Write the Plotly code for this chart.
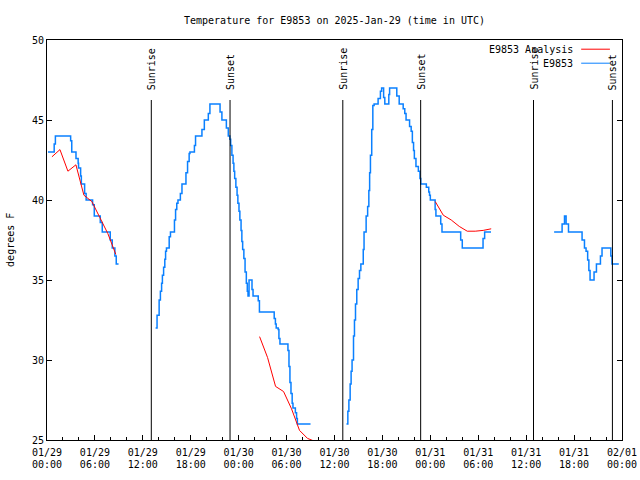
import pandas as pd
import plotly.graph_objects as go

BASE = pd.Timestamp("2025-01-29 00:00")

# Observed temperature (E9853), hours since 2025-01-29 00:00 UTC, degrees F (step line)
obs1_h = [0.12, 0.9, 1.05, 2.96, 3.1, 3.63, 3.9, 3.95, 4.21, 4.3, 4.71, 4.9, 5.71, 5.92, 6.67, 6.92, 7.92, 8.17, 8.5, 8.67, 8.96]
obs1_t = [43.0, 43.5, 44.0, 43.7, 43.0, 42.6, 42.3, 42.0, 41.5, 41.0, 40.4, 40.0, 39.7, 39.0, 38.6, 38.0, 37.5, 37.0, 36.5, 36.0, 36.0]

obs2_h = [13.6, 13.78, 14.04, 14.2, 14.35, 14.45, 14.6, 14.75, 14.85, 14.96, 15.3, 15.46, 15.96, 16.1, 16.25, 16.4,
          16.7, 16.9, 17.4, 17.6, 17.8, 17.9, 18.46, 18.6, 19.4, 19.7, 20.2, 20.4, 21.67, 21.9, 22.46, 22.7, 22.9,
          23.0, 23.15, 23.3, 23.4, 23.5, 23.65, 23.8, 23.9, 24.04, 24.15, 24.3, 24.4, 24.5, 24.65, 24.8, 24.96,
          25.08, 25.17, 25.3, 25.67, 25.8, 26.45, 26.6, 28.45, 28.6, 28.7, 28.95, 29.04, 29.17, 30.17, 30.3,
          30.42, 30.55, 30.7, 30.8, 31.1, 31.25, 31.35, 33.0]
obs2_t = [32.0, 32.8, 33.75, 34.3, 34.8, 35.3, 35.8, 36.3, 36.8, 37.0, 37.7, 38.0, 38.75, 39.4, 39.8, 40.0,
          40.4, 41.0, 41.7, 42.4, 42.9, 43.0, 43.4, 44.0, 44.4, 45.0, 45.4, 46.0, 45.5, 45.0, 44.5, 44.0, 43.8,
          43.4, 42.8, 42.3, 41.8, 41.35, 40.8, 40.3, 39.8, 39.3, 38.75, 38.1, 37.4, 36.9, 36.35, 35.5, 34.8,
          34.3, 34.0, 35.0, 34.4, 34.0, 33.7, 33.0, 32.6, 32.25, 32.0, 31.9, 31.35, 31.0, 30.6, 29.6,
          28.6, 27.9, 27.3, 27.0, 26.7, 26.35, 26.0, 26.0]

obs3_h = [37.5, 37.67, 37.8, 37.96, 38.08, 38.2, 38.38, 38.5, 38.63, 38.79, 38.96, 39.13, 39.3, 39.6, 39.7,
          39.96, 40.15, 40.3, 40.4, 40.5, 40.66, 40.8, 40.96, 41.46, 41.75, 41.9, 42.15, 42.3, 42.8, 42.9, 43.8,
          44.1, 44.6, 44.8, 44.96, 45.4, 45.6, 45.75, 45.9, 46.0, 46.2, 46.5, 46.7, 46.8, 47.5, 47.8, 47.9, 48.0,
          48.6, 48.7, 49.3, 49.46, 51.8, 52.0, 54.6, 54.8, 55.6]
obs3_t = [26.0, 26.8, 27.5, 28.5, 29.3, 30.0, 31.5, 32.5, 33.5, 34.4, 35.1, 35.6, 36.0, 36.9, 38.0,
          39.0, 39.6, 40.6, 41.7, 42.8, 44.4, 45.9, 46.0, 46.35, 46.8, 47.0, 46.4, 46.0, 46.6, 47.0, 46.5,
          46.0, 45.7, 45.4, 45.0, 44.6, 44.3, 43.6, 43.1, 42.6, 42.1, 41.8, 41.35, 41.0, 40.8, 40.5, 40.3, 40.0,
          39.4, 39.0, 38.5, 38.0, 37.5, 37.0, 37.6, 38.0, 38.0]

obs4_h = [63.5, 64.5, 64.8, 65.0, 65.3, 67.0, 67.3, 67.5, 67.7, 67.85, 68.0, 68.5, 68.8, 69.3, 69.5, 70.6, 70.75, 71.6]
obs4_t = [38.0, 38.5, 39.0, 38.5, 38.0, 37.5, 37.0, 36.8, 36.25, 35.6, 35.0, 35.5, 36.0, 36.5, 37.0, 36.5, 36.0, 36.0]

# Analysis (E9853 Analysis), hourly
ana1_h = [0.62, 1.62, 2.62, 3.62, 4.62, 5.62, 6.62, 7.62, 8.62]
ana1_t = [42.7, 43.15, 41.8, 42.2, 40.3, 39.9, 38.9, 37.9, 36.6]
ana2_h = [26.62, 27.62, 28.62, 29.62, 30.62, 31.62, 32.62, 33.62]
ana2_t = [31.46, 30.15, 28.35, 28.03, 26.95, 25.6, 25.1, 24.9]
ana3_h = [48.62, 49.62, 50.62, 51.62, 52.62, 53.62, 54.62, 55.62]
ana3_t = [39.9, 39.05, 38.75, 38.35, 38.05, 38.05, 38.1, 38.2]

# Sunrise / sunset markers
sun_h = [13.06, 22.92, 37.04, 46.79, 60.92, 70.8]
sun_labels = ["Sunrise", "Sunset", "Sunrise", "Sunset", "Sunrise", "Sunset"]

# X tick labels (two rows: date, time)
tick_h = list(range(0, 73, 6))
tick_dates = ["01/29", "01/29", "01/29", "01/29", "01/30", "01/30", "01/30", "01/30",
              "01/31", "01/31", "01/31", "01/31", "02/01"]
tick_times = ["00:00", "06:00", "12:00", "18:00"] * 3 + ["00:00"]

title_text = "Temperature for E9853 on 2025-Jan-29 (time in UTC)"
legend_names = ["E9853 Analysis", "E9853"]
ylabel = "degrees F"

BLUE = "#0a80ff"
RED = "#ff0000"
FONT = "DejaVu Sans Mono"


def to_time(hours):
    return [None if h is None else BASE + pd.Timedelta(hours=h) for h in hours]


def join(segs_h, segs_t):
    xs, ys = [], []
    for i, (h, t) in enumerate(zip(segs_h, segs_t)):
        if i:
            xs.append(None)
            ys.append(None)
        xs += h
        ys += t
    return to_time(xs), ys


fig = go.Figure()
ax, ay = join([ana1_h, ana2_h, ana3_h], [ana1_t, ana2_t, ana3_t])
fig.add_trace(go.Scatter(x=ax, y=ay, mode="lines", name=legend_names[0], xaxis="x2", yaxis="y",
                         line=dict(color=RED, width=1), connectgaps=False, showlegend=False))
ox, oy = join([obs1_h, obs2_h, obs3_h, obs4_h], [obs1_t, obs2_t, obs3_t, obs4_t])
fig.add_trace(go.Scatter(x=ox, y=oy, mode="lines", name=legend_names[1],
                         line=dict(color=BLUE, width=1.5, shape="hv"), connectgaps=False, showlegend=False))

for h, lab in zip(sun_h, sun_labels):
    t = BASE + pd.Timedelta(hours=h)
    fig.add_shape(type="line", xref="x", yref="paper", x0=t, x1=t, y0=0, y1=0.85,
                  line=dict(color="black", width=1))
    fig.add_annotation(x=t, xref="x", y=0.87, yref="paper", text=lab, textangle=-90,
                       showarrow=False, xanchor="center", yanchor="bottom",
                       font=dict(family=FONT, size=10, color="black"))

# legend (gnuplot style: text right-aligned, sample line to the right)
for i, (name, col) in enumerate(zip(legend_names, [RED, BLUE])):
    yp = 0.977 - i * 0.035
    fig.add_annotation(x=0.918, xref="paper", y=yp, yref="paper", text=name, showarrow=False,
                       xanchor="right", yanchor="middle", font=dict(family=FONT, size=10, color="black"))
    fig.add_shape(type="line", xref="paper", yref="paper", x0=0.929, x1=0.979, y0=yp, y1=yp,
                  line=dict(color=col, width=1))

fig.add_annotation(x=-0.0645, xref="paper", y=0.5, yref="paper", text=ylabel, textangle=-90,
                   showarrow=False, xanchor="center", yanchor="middle",
                   font=dict(family=FONT, size=10, color="black"))

x_range = [BASE, BASE + pd.Timedelta(hours=72)]
fig.update_layout(
    width=640, height=480,
    margin=dict(l=47, r=18, t=40, b=40, autoexpand=False),
    paper_bgcolor="white", plot_bgcolor="white",
    font=dict(family=FONT, size=10, color="black"),
    title=dict(text=title_text, x=0.5, xref="paper", y=1 - 20 / 480, yref="container",
               xanchor="center", yanchor="middle", font=dict(family=FONT, size=10, color="black")),
    showlegend=False,
    xaxis=dict(
        range=x_range, automargin=False,
        tickmode="array", tickvals=to_time(tick_h), ticktext=tick_dates, ticklabelstandoff=3,
        ticks="inside", ticklen=5, tickcolor="black", tickwidth=1,
        minor=dict(ticks="inside", ticklen=3, dtick=2 * 3600 * 1000, tick0=BASE, tickcolor="black", showgrid=False),
        showline=True, linecolor="black", linewidth=1, mirror=True,
        showgrid=False, zeroline=False,
    ),
    xaxis2=dict(
        overlaying="x", matches="x", side="bottom", range=x_range, automargin=False,
        tickmode="array", tickvals=to_time(tick_h), ticktext=tick_times, ticklabelstandoff=17,
        ticks="", showline=False, showgrid=False, zeroline=False,
    ),
    yaxis=dict(
        range=[25, 50], dtick=5, tick0=25, automargin=False,
        ticks="inside", ticklen=5, tickcolor="black", tickwidth=1,
        showline=True, linecolor="black", linewidth=1, mirror="ticks",
        showgrid=False, zeroline=False,
    ),
)

fig.write_html("out.html", config={"displayModeBar": False},
               post_script="document.body.style.margin='0';document.body.style.overflow='hidden';")
